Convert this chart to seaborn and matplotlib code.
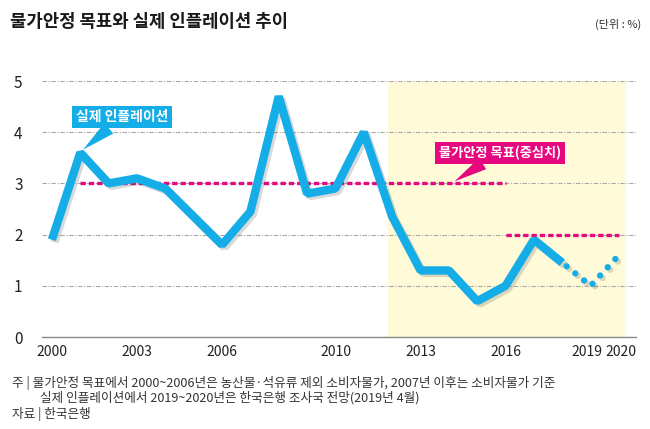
import matplotlib
matplotlib.use('Agg')
import matplotlib.pyplot as plt
import seaborn as sns
import pandas as pd
from matplotlib import patheffects as pe
from matplotlib.transforms import ScaledTranslation

# ---------------- data ----------------
years = [2000, 2001, 2002, 2003, 2004, 2005, 2006, 2007, 2008, 2009,
         2010, 2011, 2012, 2013, 2014, 2015, 2016, 2017, 2018]
inflation = [1.9, 3.6, 3.0, 3.1, 2.9, 2.35, 1.8, 2.45, 4.7, 2.8,
             2.9, 4.0, 2.35, 1.3, 1.3, 0.7, 1.0, 1.9, 1.45]
forecast_years = [2018, 2019, 2020]
forecast_values = [1.45, 1.0, 1.6]
target_start = [2001, 2016]
target_end = [2016, 2020]
target_values = [3.0, 2.0]
shade_period = (2011.85, 2020.25)
tick_years = [2000, 2003, 2006, 2010, 2013, 2016, 2019, 2020]
tick_labels = ['2000', '2003', '2006', '2010', '2013', '2016', '2019', '2020']
y_ticks = [0, 1, 2, 3, 4, 5]

title = '물가안정 목표와 실제 인플레이션 추이'
unit = '(단위 : %)'
label_actual = '실제 인플레이션'
label_target = '물가안정 목표(중심치)'
note1 = '주 | 물가안정 목표에서 2000~2006년은 농산물·석유류 제외 소비자물가, 2007년 이후는 소비자물가 기준'
note2 = '실제 인플레이션에서 2019~2020년은 한국은행 조사국 전망(2019년 4월)'
source = '자료 | 한국은행'

BLUE = '#14ade8'
MAGENTA = '#e5087f'
SHADE = '#fffbd8'

# ---------------- style ----------------
sns.set_theme(style='white')
plt.rcParams['font.family'] = ['Noto Sans CJK KR', 'DejaVu Sans']

fig = plt.figure(figsize=(6.5, 4.29), dpi=100)
fig.patch.set_facecolor('white')
ax = fig.add_axes([42 / 650, 92 / 429, 594 / 650, 256 / 429])

ax.axvspan(shade_period[0], shade_period[1], color=SHADE, zorder=0.2, lw=0)

shadow = [pe.SimpleLineShadow(offset=(1.8, -1.8), shadow_color='#555555', alpha=0.22),
          pe.Normal()]

df = pd.DataFrame({'year': years, 'value': inflation})
sns.lineplot(data=df, x='year', y='value', ax=ax, color=BLUE, linewidth=6,
             solid_joinstyle='bevel', solid_capstyle='butt',
             path_effects=shadow, zorder=4)

dff = pd.DataFrame({'year': forecast_years, 'value': forecast_values})
sns.lineplot(data=dff, x='year', y='value', ax=ax, color=BLUE, linewidth=4.6,
             linestyle=(0.9, (0.01, 1.75)), dash_capstyle='round',
             path_effects=shadow, zorder=4)

for s, e, v in zip(target_start, target_end, target_values):
    dft = pd.DataFrame({'year': [s, e], 'value': [v, v]})
    sns.lineplot(data=dft, x='year', y='value', ax=ax, color=MAGENTA,
                 linewidth=2.4, linestyle=(0, (1.6, 0.9)), zorder=3)

ax.set_xlim(1999.65, 2020.6)
ax.set_ylim(0, 5)
ax.set_xticks(tick_years)
ax.set_xticklabels(tick_labels)
ax.set_yticks(y_ticks)
ax.set_yticklabels([str(t) for t in y_ticks])
ax.set_xlabel('')
ax.set_ylabel('')
ax.tick_params(axis='x', length=0, pad=6, labelsize=10, labelcolor='#222222')
ax.tick_params(axis='y', length=0, pad=14, labelsize=11, labelcolor='#222222')
for sp in ['top', 'right', 'left']:
    ax.spines[sp].set_visible(False)
ax.spines['bottom'].set_color('#8a8a8a')
ax.spines['bottom'].set_linewidth(1.0)
ax.set_axisbelow(True)
ax.yaxis.grid(True, color='#a8a8a8', linewidth=0.8, linestyle=(0, (4, 1.5, 1, 1.5)))
ax.xaxis.grid(False)
ax.set_facecolor('none')

# nudge the two closely spaced last labels apart (as in the reference)
for lbl in ax.get_xticklabels():
    if lbl.get_text() == '2019':
        lbl.set_transform(lbl.get_transform() + ScaledTranslation(-4 / 100, 0, fig.dpi_scale_trans))
    elif lbl.get_text() == '2020':
        lbl.set_transform(lbl.get_transform() + ScaledTranslation(2 / 100, 0, fig.dpi_scale_trans))

# callouts
ax.annotate(label_actual, xy=(years[1] + 0.1, inflation[1] + 0.06),
            xytext=(2002.47, 4.29), ha='center', va='center', color='white',
            fontsize=10, fontweight='bold', zorder=6,
            bbox=dict(boxstyle='square,pad=0.28', fc=BLUE, ec='none'),
            arrowprops=dict(arrowstyle='wedge,tail_width=1.0', fc=BLUE, ec='none',
                            shrinkA=0, shrinkB=0))
ax.annotate(label_target, xy=(2014.2, target_values[0] + 0.04),
            xytext=(2015.8, 3.6), ha='center', va='center', color='white',
            fontsize=9.5, fontweight='bold', zorder=6,
            bbox=dict(boxstyle='square,pad=0.28', fc=MAGENTA, ec='none'),
            arrowprops=dict(arrowstyle='wedge,tail_width=1.0', fc=MAGENTA, ec='none',
                            shrinkA=0, shrinkB=0))

# texts
fig.text(10 / 650, 1 - 22 / 429, title, fontsize=12.8, fontweight='bold',
         color='#1a1a1a', va='center', ha='left')
fig.text(641 / 650, 1 - 24 / 429, unit, fontsize=8, color='#333333',
         va='center', ha='right')
fig.text(12 / 650, 1 - 383 / 429, note1, fontsize=9.1, color='#333333', va='center')
fig.text(40 / 650, 1 - 398 / 429, note2, fontsize=9.1, color='#333333', va='center')
fig.text(12 / 650, 1 - 414 / 429, source, fontsize=9.1, color='#333333', va='center')

fig.savefig('out.png', dpi=100)
